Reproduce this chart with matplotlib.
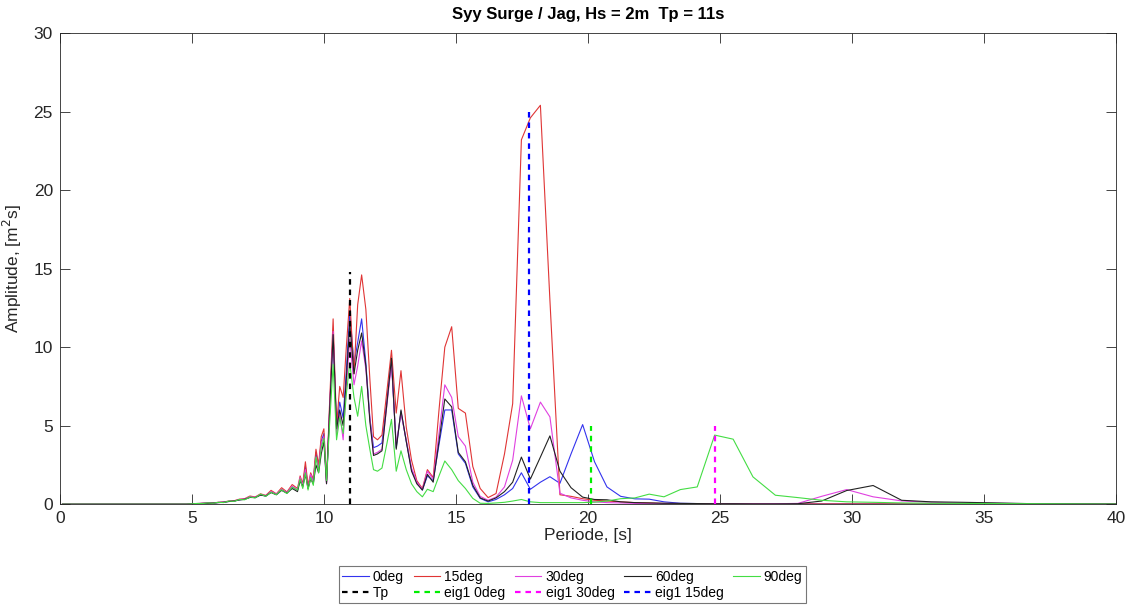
import matplotlib
matplotlib.use("Agg")
import matplotlib.pyplot as plt

plt.rcParams["font.family"] = ["Liberation Sans", "DejaVu Sans"]

# Period grid (s)
periode = [
    0.1, 1.0, 2.0, 3.0, 4.0, 4.8,
    5.0, 5.2, 5.4, 5.6, 5.8, 6.0, 6.2, 6.4, 6.6, 6.8,
    7.0, 7.2, 7.4, 7.6, 7.8, 8.0, 8.2, 8.4, 8.6, 8.8,
    9.0, 9.1, 9.2, 9.3, 9.4, 9.5, 9.6, 9.7, 9.8, 9.9, 10.0, 10.1, 10.22,
    10.35, 10.48, 10.6, 10.73, 10.85, 10.98, 11.14, 11.28, 11.43, 11.59,
    11.74, 11.88, 12.03, 12.2, 12.38, 12.56, 12.74, 12.92, 13.12, 13.32,
    13.52, 13.73, 13.92, 14.14, 14.36, 14.58, 14.84, 15.09, 15.36, 15.64,
    15.92, 16.22, 16.52, 16.84,
    17.15, 17.48, 17.82, 18.2, 18.56, 18.94, 19.36, 19.8, 20.25, 20.72,
    21.24, 21.78, 22.32, 22.88, 23.5, 24.14, 24.8, 25.5, 26.25, 27.1,
    27.95, 28.85, 29.8, 30.8, 31.88, 33.0, 34.2, 35.5, 36.9, 38.4, 40.0,
]

deg0 = [
    0, 0, 0, 0, 0, 0,
    0.02, 0.04, 0.05, 0.07, 0.07, 0.11, 0.12, 0.18, 0.2, 0.28,
    0.32, 0.45, 0.42, 0.6, 0.52, 0.78, 0.62, 0.92, 0.72, 1.1,
    0.9, 1.6, 1.2, 2.4, 1.1, 1.8, 1.5, 3.3, 2.3, 4.0, 4.5, 1.4, 6.2,
    10.9, 4.9, 6.5, 5.5, 8.5, 12.2, 8.9, 10.3, 11.8, 9.0,
    5.5, 3.6, 3.7, 3.9, 6.5, 9.1, 3.6, 5.9, 4.0, 2.2,
    1.4, 0.9, 1.8, 1.5, 3.8, 6.0, 6.0, 3.2, 2.6, 1.1,
    0.37, 0.15, 0.3, 0.6,
    1.0, 2.0, 0.95, 1.4, 1.75, 1.33, 3.2, 5.07, 2.7, 1.1,
    0.5, 0.34, 0.32, 0.15, 0.06, 0.04, 0.03, 0.02, 0.02, 0.02,
    0.02, 0.02, 0.02, 0.02, 0.02, 0.01, 0.01, 0.01, 0.01, 0.01, 0.01,
]

deg15 = [
    0, 0, 0, 0, 0, 0,
    0.02, 0.04, 0.06, 0.07, 0.08, 0.12, 0.14, 0.2, 0.22, 0.32,
    0.35, 0.52, 0.46, 0.66, 0.56, 0.88, 0.66, 1.05, 0.78, 1.25,
    1.0, 1.8, 1.3, 2.7, 1.2, 2.0, 1.6, 3.5, 2.5, 4.3, 4.8, 1.4, 6.6,
    11.8, 5.0, 7.5, 6.8, 10.0, 13.1, 8.3, 12.7, 14.6, 12.4,
    8.0, 4.3, 4.1, 4.4, 7.1, 9.8, 5.8, 8.5, 4.9, 2.8,
    1.5, 1.0, 2.2, 1.7, 6.0, 10.0, 11.3, 6.1, 5.8, 2.4,
    1.0, 0.42, 0.68, 3.2,
    6.4, 23.2, 24.6, 25.4, 13.0, 0.6, 0.5, 0.35, 0.25, 0.2,
    0.15, 0.1, 0.08, 0.05, 0.04, 0.03, 0.03, 0.02, 0.02, 0.02,
    0.02, 0.02, 0.02, 0.02, 0.02, 0.01, 0.01, 0.01, 0.01, 0.01, 0.01,
]

deg30 = [
    0, 0, 0, 0, 0, 0,
    0.02, 0.04, 0.05, 0.06, 0.08, 0.11, 0.13, 0.19, 0.2, 0.3,
    0.33, 0.48, 0.44, 0.62, 0.54, 0.8, 0.64, 0.95, 0.74, 1.15,
    0.9, 1.7, 1.2, 2.2, 1.0, 1.9, 1.4, 3.0, 2.2, 3.9, 4.3, 1.3, 6.1,
    11.0, 4.4, 5.8, 4.1, 7.5, 10.5, 7.6, 8.8, 10.4, 8.6,
    5.5, 3.2, 3.3, 3.5, 6.2, 9.0, 3.8, 5.8, 4.1, 2.3,
    1.4, 0.95, 2.1, 1.6, 4.5, 7.6, 6.8, 4.3, 3.7, 1.4,
    0.5, 0.25, 0.45, 1.1,
    2.8, 6.9, 4.8, 6.5, 5.56, 0.7, 0.4, 0.25, 0.15, 0.1,
    0.08, 0.05, 0.04, 0.03, 0.03, 0.02, 0.02, 0.02, 0.02, 0.03,
    0.05, 0.5, 0.93, 0.47, 0.21, 0.12, 0.08, 0.05, 0.03, 0.02, 0.01,
]

deg60 = [
    0, 0, 0, 0, 0, 0,
    0.02, 0.03, 0.05, 0.06, 0.07, 0.1, 0.12, 0.17, 0.2, 0.27,
    0.31, 0.43, 0.42, 0.58, 0.52, 0.74, 0.6, 0.88, 0.7, 1.0,
    0.8, 1.5, 1.1, 1.9, 1.0, 1.6, 1.3, 2.5, 2.0, 3.2, 4.0, 1.3, 6.0,
    10.8, 4.8, 6.0, 5.0, 8.0, 11.5, 8.3, 9.8, 10.9, 8.8,
    5.3, 3.1, 3.2, 3.4, 6.3, 9.3, 3.5, 6.0, 4.0, 2.1,
    1.3, 0.9, 1.9, 1.4, 4.0, 6.7, 6.2, 3.3, 2.7, 1.2,
    0.4, 0.2, 0.4, 0.8,
    1.4, 3.0, 1.6, 3.0, 4.35, 2.1, 1.05, 0.45, 0.3, 0.28,
    0.15, 0.1, 0.08, 0.06, 0.05, 0.04, 0.03, 0.03, 0.02, 0.02,
    0.03, 0.2, 0.87, 1.19, 0.25, 0.15, 0.12, 0.08, 0.03, 0.02, 0.01,
]

deg90 = [
    0, 0, 0, 0, 0, 0,
    0.02, 0.05, 0.04, 0.08, 0.06, 0.12, 0.1, 0.2, 0.18, 0.3,
    0.28, 0.46, 0.4, 0.64, 0.5, 0.76, 0.6, 0.92, 0.68, 1.08,
    0.9, 1.6, 1.0, 2.0, 0.9, 1.7, 1.2, 3.0, 2.0, 3.6, 4.2, 1.5, 5.2,
    8.9, 4.1, 5.5, 4.5, 7.0, 9.0, 6.8, 5.6, 7.5, 5.0,
    3.5, 2.2, 2.1, 2.3, 3.8, 5.4, 2.1, 3.4, 2.2, 1.3,
    0.8, 0.47, 0.95, 0.8, 1.8, 2.75, 2.2, 1.5, 1.0, 0.37,
    0.06, 0.05, 0.08, 0.12,
    0.2, 0.3, 0.15, 0.1, 0.1, 0.1, 0.1, 0.1, 0.13, 0.2,
    0.35, 0.4, 0.64, 0.47, 0.93, 1.1, 4.4, 4.14, 1.74, 0.57,
    0.42, 0.25, 0.15, 0.12, 0.08, 0.06, 0.05, 0.04, 0.03, 0.02, 0.01,
]

# Vertical markers
tp_period, tp_height = 11.0, 14.8
eig_labels = ["eig1 0deg", "eig1 30deg", "eig1 15deg"]
eig_periods = [20.1, 24.8, 17.77]
eig_heights = [5.0, 5.0, 25.0]
eig_colors = ["#00ee00", "#ff00ff", "#0000ff"]

series = [
    ("0deg", deg0, "#3333ee"),
    ("15deg", deg15, "#e03535"),
    ("30deg", deg30, "#e040e0"),
    ("60deg", deg60, "#222222"),
    ("90deg", deg90, "#44dd44"),
]

fig = plt.figure(figsize=(11.29, 6.06), dpi=100)
ax = fig.add_axes([0.053, 0.168, 0.9355, 0.7775])

dash = (0, (2.5, 2.2))
handles = {}
for label, vals, col in series:
    handles[label], = ax.plot(periode, vals, color=col, lw=0.8, label=label)

handles["Tp"], = ax.plot([tp_period, tp_period], [0, tp_height], color="black",
                         ls=dash, lw=1.6, label="Tp")
for lab, p, h, c in zip(eig_labels, eig_periods, eig_heights, eig_colors):
    handles[lab], = ax.plot([p, p], [0, h], color=c, ls=dash, lw=1.6, label=lab)

ax.set_xlim(0, 40)
ax.set_ylim(0, 30)
ax.set_xticks(range(0, 41, 5))
ax.set_yticks(range(0, 31, 5))
ax.tick_params(direction="in", length=7, width=0.6, top=True, right=True,
               labelsize=12.5, colors="#262626", pad=5)
for sp in ax.spines.values():
    sp.set_color("#262626")
    sp.set_linewidth(0.6)

ax.set_xlabel("Periode, [s]", fontsize=12.5, color="#262626", labelpad=1)
ax.set_ylabel("Amplitude, [m$^2$s]", fontsize=12.5, color="#262626", labelpad=7)
ax.set_title("Syy Surge / Jag, Hs = 2m  Tp = 11s", fontsize=12,
             fontweight="bold", color="black", pad=10)

order = ["0deg", "Tp", "15deg", "eig1 0deg", "30deg", "eig1 30deg",
         "60deg", "eig1 15deg", "90deg"]
leg = fig.legend([handles[k] for k in order], order, loc="center",
                 bbox_to_anchor=(0.507, 0.035), ncol=5, fontsize=10,
                 frameon=True, fancybox=False, framealpha=1,
                 handlelength=1.9, handletextpad=0.3, columnspacing=0.7,
                 labelspacing=0.15, borderpad=0.25)
leg.get_frame().set_edgecolor("#777777")
leg.get_frame().set_linewidth(0.8)

fig.savefig("out.png", dpi=100)
